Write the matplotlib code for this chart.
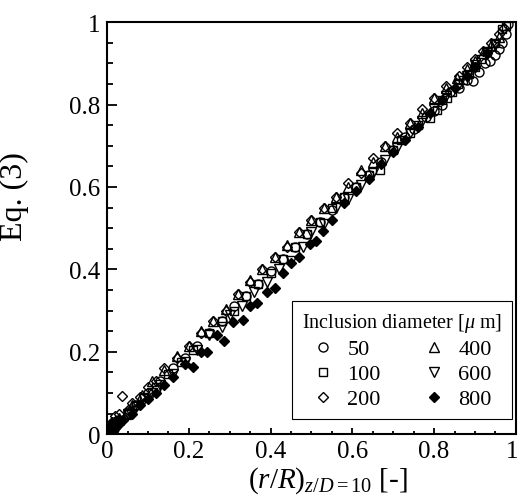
import matplotlib.pyplot as plt
from matplotlib.ticker import MultipleLocator
from matplotlib.transforms import ScaledTranslation

# font setting
plt.rcParams['font.family'] = 'Liberation Serif'
plt.rcParams['mathtext.fontset'] = 'custom'
plt.rcParams['mathtext.rm'] = 'Liberation Serif'
plt.rcParams['mathtext.it'] = 'Liberation Serif:italic'

# data per inclusion diameter
x50 = [0.002, 0.004, 0.006, 0.009, 0.012, 0.016, 0.02, 0.03, 0.05, 0.07, 0.1, 0.13, 0.16, 0.19,
       0.22, 0.25, 0.28, 0.31, 0.34, 0.37, 0.4, 0.43, 0.46, 0.49, 0.52, 0.55, 0.58, 0.61, 0.64,
       0.67, 0.7, 0.73, 0.75, 0.78, 0.8, 0.82, 0.84, 0.86, 0.88, 0.895, 0.91, 0.925, 0.936, 0.95,
       0.96, 0.965, 0.975, 0.98]
y50 = [0.003, 0.008, 0.004, 0.015, 0.02, 0.012, 0.03, 0.035, 0.055, 0.07, 0.1, 0.13, 0.16, 0.185,
       0.215, 0.245, 0.275, 0.31, 0.335, 0.365, 0.395, 0.425, 0.455, 0.485, 0.515, 0.545, 0.575,
       0.6, 0.63, 0.66, 0.69, 0.72, 0.74, 0.77, 0.785, 0.8, 0.83, 0.84, 0.86, 0.857, 0.88, 0.9,
       0.905, 0.92, 0.935, 0.95, 0.97, 0.995]

x100 = [0.003, 0.006, 0.01, 0.014, 0.018, 0.025, 0.03, 0.05, 0.07, 0.09, 0.12, 0.15, 0.18, 0.21,
        0.25, 0.28, 0.31, 0.34, 0.37, 0.4, 0.43, 0.46, 0.49, 0.52, 0.55, 0.58, 0.61, 0.64, 0.667,
        0.7, 0.72, 0.74, 0.76, 0.79, 0.807, 0.82, 0.831, 0.845, 0.858, 0.87, 0.885, 0.9, 0.915,
        0.93, 0.95, 0.966, 0.975]
y100 = [0.006, 0.01, 0.015, 0.025, 0.02, 0.03, 0.035, 0.05, 0.07, 0.09, 0.115, 0.145, 0.175, 0.205,
        0.245, 0.275, 0.3, 0.335, 0.365, 0.39, 0.425, 0.455, 0.485, 0.515, 0.55, 0.575, 0.6, 0.63,
        0.641, 0.69, 0.715, 0.73, 0.75, 0.767, 0.786, 0.81, 0.816, 0.83, 0.85, 0.86, 0.875, 0.89,
        0.91, 0.93, 0.95, 0.983, 0.99]

x200 = [0.004, 0.008, 0.012, 0.016, 0.02, 0.03, 0.037, 0.05, 0.06, 0.08, 0.1, 0.12, 0.14, 0.17,
        0.2, 0.23, 0.26, 0.29, 0.32, 0.35, 0.38, 0.41, 0.44, 0.47, 0.5, 0.53, 0.56, 0.59, 0.62,
        0.65, 0.68, 0.71, 0.74, 0.77, 0.8, 0.83, 0.86, 0.88, 0.9, 0.92, 0.94, 0.96, 0.97]
y200 = [0.012, 0.02, 0.03, 0.025, 0.045, 0.05, 0.092, 0.06, 0.075, 0.09, 0.115, 0.13, 0.16, 0.185,
        0.215, 0.245, 0.275, 0.3, 0.34, 0.37, 0.4, 0.43, 0.455, 0.49, 0.52, 0.55, 0.575, 0.61,
        0.635, 0.67, 0.7, 0.73, 0.755, 0.79, 0.815, 0.845, 0.87, 0.89, 0.91, 0.93, 0.95, 0.97, 0.985]

x400 = [0.004, 0.008, 0.015, 0.022, 0.03, 0.045, 0.06, 0.085, 0.11, 0.14, 0.17, 0.2, 0.23, 0.26,
        0.29, 0.32, 0.35, 0.38, 0.41, 0.44, 0.47, 0.5, 0.53, 0.56, 0.59, 0.62, 0.65, 0.68, 0.71,
        0.74, 0.77, 0.8, 0.83, 0.855, 0.88, 0.9, 0.92, 0.94, 0.96]
y400 = [0.008, 0.012, 0.02, 0.03, 0.04, 0.05, 0.07, 0.095, 0.13, 0.155, 0.19, 0.215, 0.25, 0.275,
        0.305, 0.34, 0.375, 0.4, 0.43, 0.46, 0.49, 0.52, 0.55, 0.575, 0.6, 0.64, 0.66, 0.7, 0.72,
        0.755, 0.78, 0.815, 0.84, 0.865, 0.885, 0.905, 0.925, 0.945, 0.965]

x600 = [0.005, 0.01, 0.02, 0.03, 0.05, 0.07, 0.09, 0.11, 0.13, 0.16, 0.19, 0.22, 0.25, 0.28, 0.3,
        0.33, 0.36, 0.39, 0.42, 0.45, 0.48, 0.5, 0.53, 0.56, 0.59, 0.62, 0.65, 0.68, 0.71, 0.74,
        0.77, 0.8, 0.83, 0.86, 0.88, 0.9, 0.93, 0.95]
y600 = [0.008, 0.015, 0.025, 0.03, 0.05, 0.065, 0.085, 0.1, 0.12, 0.145, 0.175, 0.205, 0.24, 0.26,
        0.29, 0.31, 0.345, 0.37, 0.4, 0.42, 0.455, 0.49, 0.51, 0.55, 0.57, 0.605, 0.635, 0.665,
        0.695, 0.73, 0.76, 0.79, 0.82, 0.85, 0.87, 0.895, 0.925, 0.945]

x800 = [0.003, 0.006, 0.01, 0.015, 0.02, 0.03, 0.04, 0.06, 0.08, 0.1, 0.12, 0.14, 0.16, 0.19, 0.21,
        0.23, 0.244, 0.27, 0.286, 0.308, 0.333, 0.35, 0.367, 0.39, 0.411, 0.43, 0.45, 0.47, 0.496,
        0.51, 0.528, 0.55, 0.58, 0.61, 0.64, 0.67, 0.7, 0.73, 0.76, 0.79, 0.82, 0.85, 0.88, 0.9, 0.93]
y800 = [0.0, 0.005, 0.01, 0.008, 0.015, 0.025, 0.035, 0.05, 0.07, 0.085, 0.1, 0.12, 0.14, 0.17,
        0.163, 0.2, 0.199, 0.24, 0.226, 0.272, 0.277, 0.31, 0.318, 0.345, 0.354, 0.39, 0.415, 0.43,
        0.461, 0.47, 0.493, 0.52, 0.56, 0.59, 0.62, 0.655, 0.685, 0.715, 0.745, 0.78, 0.81, 0.84,
        0.87, 0.89, 0.925]

fig = plt.figure(figsize=(5.2, 5.02), dpi=100)
ax = fig.add_axes([0.206, 0.133, 0.786, 0.821])

hollow = dict(linestyle='none', markerfacecolor='none', markeredgecolor='black', markeredgewidth=1.0)
ax.plot(x50, y50, marker='o', markersize=6.5, label='50', **hollow)
ax.plot(x100, y100, marker='s', markersize=6.2, label='100', **hollow)
ax.plot(x200, y200, marker='D', markersize=5.2, label='200', **hollow)
ax.plot(x400, y400, marker='^', markersize=6.8, label='400', **hollow)
ax.plot(x600, y600, marker='v', markersize=6.8, label='600', **hollow)
ax.plot(x800, y800, marker='D', markersize=4.6, linestyle='none', color='black', label='800')

ax.set_xlim(0, 1)
ax.set_ylim(0, 1)
ax.set_xticks([0, 0.2, 0.4, 0.6, 0.8, 1])
ax.set_xticklabels(['0', '0.2', '0.4', '0.6', '0.8', '1'])
ax.set_yticks([0, 0.2, 0.4, 0.6, 0.8, 1])
ax.set_yticklabels(['0', '0.2', '0.4', '0.6', '0.8', '1'])
ax.xaxis.set_minor_locator(MultipleLocator(0.05))
ax.yaxis.set_minor_locator(MultipleLocator(0.05))
ax.tick_params(axis='both', which='both', direction='in', labelsize=18, width=1.3)
ax.tick_params(axis='x', which='major', length=4.5, pad=4)
ax.tick_params(axis='x', which='minor', length=2.5)
ax.tick_params(axis='y', which='major', length=7, pad=5)
ax.tick_params(axis='y', which='minor', length=4)
for s in ax.spines.values():
    s.set_linewidth(1.5)

# the "1" at the right end sits on the figure edge, nudge it a bit left
last = ax.get_xticklabels()[-1]
last.set_transform(last.get_transform() + ScaledTranslation(-3 / 72, 0, fig.dpi_scale_trans))

ax.set_xlabel(r'$(r/R)_{z/D=10}$ [-]', fontsize=21)
ax.xaxis.set_label_coords(0.54, -0.072)
ax.set_ylabel('Eq. (3)', fontsize=23)
ax.yaxis.set_label_coords(-0.19, 0.58)

# legend order: 50,100,200 in first column, 400,600,800 in second
leg = ax.legend(ncol=2, title=r'Inclusion diameter [$\mu$ m]', fontsize=16, title_fontsize=14.5,
                loc='lower right', bbox_to_anchor=(0.99, 0.036), borderaxespad=0,
                fancybox=False, framealpha=1, edgecolor='black', handlelength=1.0,
                handletextpad=0.6, columnspacing=1.9, labelspacing=0.2, borderpad=0.45)
leg.get_frame().set_linewidth(0.8)
leg._legend_box.align = 'center'

fig.savefig('out.png', dpi=100)
